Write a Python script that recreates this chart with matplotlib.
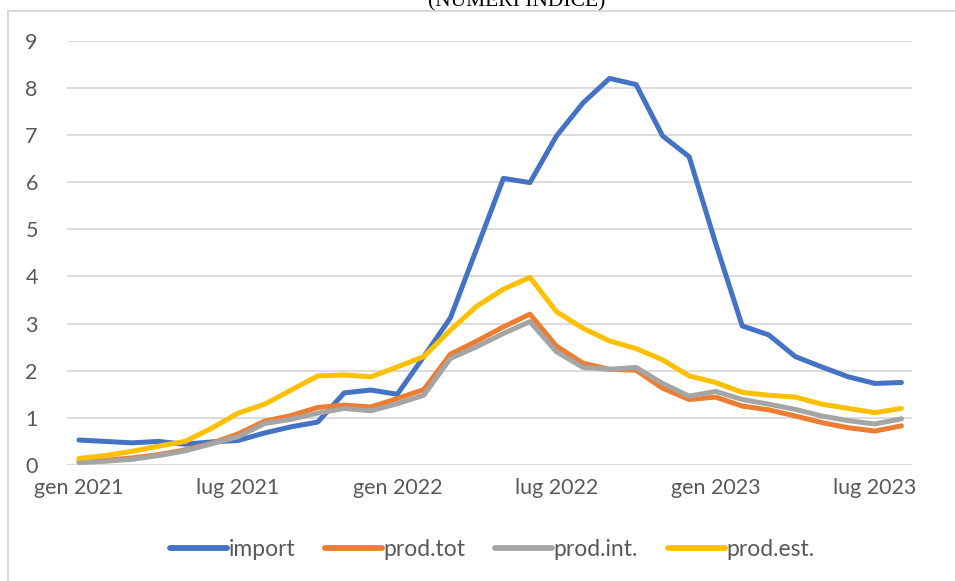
import matplotlib

matplotlib.use("Agg")

import matplotlib.pyplot as plt
from matplotlib.lines import Line2D

mesi = ["gen", "feb", "mar", "apr", "mag", "giu", "lug", "ago", "set", "ott", "nov", "dic"]
anni = [2021, 2022, 2023]
etichette = [f"{m} {a}" for a in anni for m in mesi][:32]

import_ = [0.53, 0.50, 0.47, 0.50, 0.44, 0.49, 0.52, 0.68, 0.81, 0.91, 1.53, 1.59,
           1.50, 2.30, 3.12, 4.60, 6.08, 5.99, 6.98, 7.68, 8.20, 8.07, 6.98, 6.54,
           4.70, 2.95, 2.76, 2.30, 2.08, 1.87, 1.73, 1.75]
prod_tot = [0.07, 0.10, 0.15, 0.22, 0.32, 0.46, 0.66, 0.93, 1.05, 1.22, 1.27, 1.23,
            1.41, 1.60, 2.35, 2.63, 2.93, 3.20, 2.52, 2.16, 2.03, 2.01, 1.63, 1.39,
            1.44, 1.25, 1.17, 1.04, 0.90, 0.79, 0.72, 0.83]
prod_int = [0.05, 0.08, 0.12, 0.20, 0.30, 0.45, 0.60, 0.88, 0.97, 1.10, 1.20, 1.15,
            1.30, 1.48, 2.26, 2.51, 2.79, 3.04, 2.40, 2.07, 2.03, 2.07, 1.73, 1.46,
            1.56, 1.39, 1.29, 1.18, 1.04, 0.94, 0.87, 0.98]
prod_est = [0.14, 0.20, 0.29, 0.40, 0.50, 0.78, 1.10, 1.29, 1.59, 1.89, 1.91, 1.87,
            2.08, 2.30, 2.86, 3.37, 3.73, 3.98, 3.25, 2.90, 2.63, 2.47, 2.23, 1.89,
            1.75, 1.54, 1.48, 1.44, 1.29, 1.20, 1.11, 1.20]

serie = [
    ("import", import_, "#4472C4"),
    ("prod.tot", prod_tot, "#ED7D31"),
    ("prod.int.", prod_int, "#A5A5A5"),
    ("prod.est.", prod_est, "#FFC000"),
]

W, H = 955, 581
fig = plt.figure(figsize=(W / 100, H / 100), dpi=100)
ax = fig.add_axes([67 / W, 1 - 465 / H, (912 - 67) / W, (465 - 40.7) / H])

x = list(range(len(import_)))
for nome, valori, colore in serie:
    ax.plot(x, valori, color=colore, lw=3.6, solid_joinstyle="round",
            solid_capstyle="round", label=nome, zorder=3)

ax.set_ylim(0, 9)
ax.set_xlim(-0.45, 31.4)
ax.set_yticks(range(10))
ax.set_xticks(x[::6])
ax.set_xticklabels(etichette[::6])
ax.grid(axis="y", color="#d9d9d9", lw=1.3)
ax.set_axisbelow(True)
for s in ax.spines.values():
    s.set_visible(False)
ax.tick_params(length=0, labelsize=15.5, labelcolor="#595959", pad=9)
ax.tick_params(axis="y", pad=21)
for t in ax.get_xticklabels() + ax.get_yticklabels():
    t.set_family("Lato")

handles = [Line2D([], [], color=c, lw=4.2, solid_capstyle="round") for _, _, c in serie]
leg = fig.legend(handles, [n for n, _, _ in serie], loc="center",
                 bbox_to_anchor=(492 / W, 1 - 550 / H), ncol=4, frameon=False,
                 handlelength=2.5, handletextpad=0.05, columnspacing=1.3,
                 prop={"family": "Lato", "size": 16.5})
for t in leg.get_texts():
    t.set_color("#595959")

# cornice del grafico e titolo tagliato in alto
fig.add_artist(Line2D([8 / W, 8 / W], [0, 1 - 11 / H], color="#d9d9d9", lw=1.5))
fig.add_artist(Line2D([8 / W, 1], [1 - 11 / H, 1 - 11 / H], color="#d9d9d9", lw=1.5))
fig.text(517 / W, 1 - 6 / H, "(NUMERI INDICE)", ha="center", va="baseline",
         family="Liberation Serif", fontsize=15.5, color="black")

fig.savefig("out.png", dpi=100)
